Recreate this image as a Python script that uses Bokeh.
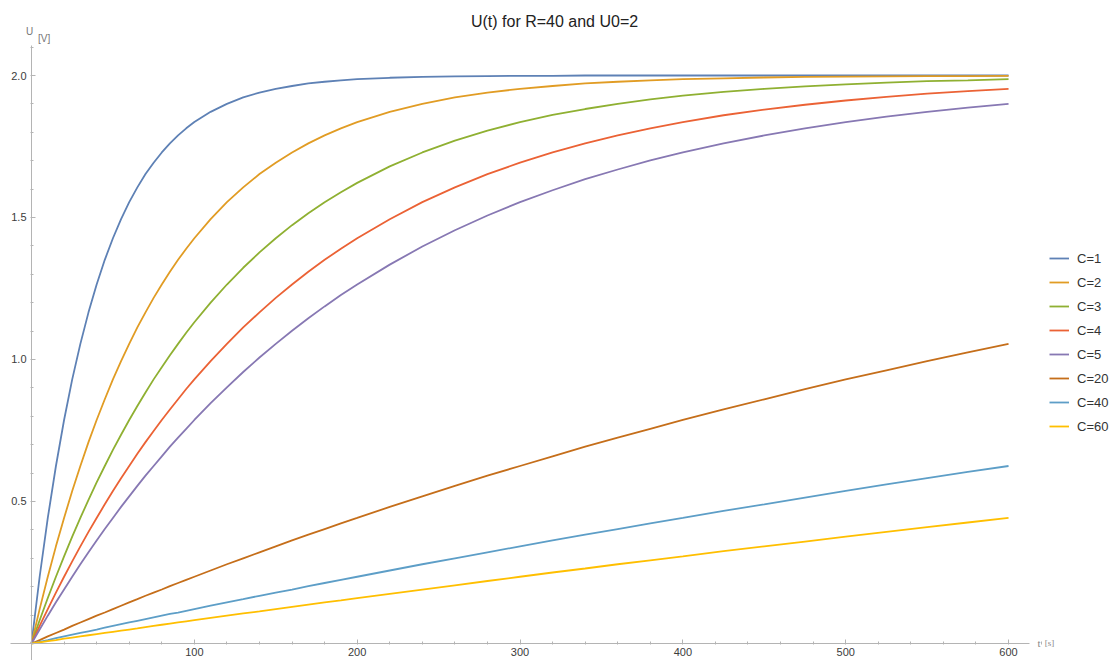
from bokeh.plotting import figure
from bokeh.models import Legend, LegendItem, Label, FixedTicker, PrintfTickFormatter, Range1d
from bokeh.embed import file_html
from bokeh.resources import INLINE

# time samples [s]
t = [0, 5, 10, 15, 20, 25, 30, 35, 40, 45, 50, 55, 60, 65, 70, 75, 80, 85, 90, 95, 100,
     110, 120, 130, 140, 150, 160, 170, 180, 190, 200,
     220, 240, 260, 280, 300, 320, 340, 360, 380, 400,
     425, 450, 475, 500, 525, 550, 575, 600]

labels = ["C=1", "C=2", "C=3", "C=4", "C=5", "C=20", "C=40", "C=60"]

U_C1 = [0, 0.235, 0.442, 0.625, 0.787, 0.930, 1.055, 1.166, 1.264, 1.351, 1.427, 1.494, 1.554, 1.606,
        1.653, 1.693, 1.729, 1.761, 1.789, 1.814, 1.836,
        1.872, 1.900, 1.923, 1.940, 1.953, 1.963, 1.972, 1.978, 1.983, 1.987,
        1.992, 1.995, 1.997, 1.998, 1.999, 1.999, 2.000, 2.000, 2.000, 2.000,
        2.000, 2.000, 2.000, 2.000, 2.000, 2.000, 2.000, 2.000]
U_C2 = [0, 0.121, 0.235, 0.342, 0.442, 0.537, 0.625, 0.709, 0.787, 0.860, 0.930, 0.994, 1.055, 1.113,
        1.166, 1.217, 1.264, 1.309, 1.351, 1.390, 1.427,
        1.494, 1.554, 1.606, 1.653, 1.693, 1.729, 1.761, 1.789, 1.814, 1.836,
        1.872, 1.900, 1.923, 1.940, 1.953, 1.963, 1.972, 1.978, 1.983, 1.987,
        1.990, 1.993, 1.995, 1.996, 1.997, 1.998, 1.998, 1.999]
U_C3 = [0, 0.082, 0.160, 0.235, 0.307, 0.376, 0.442, 0.506, 0.567, 0.625, 0.682, 0.735, 0.787, 0.836,
        0.884, 0.930, 0.973, 1.015, 1.055, 1.094, 1.131,
        1.200, 1.264, 1.323, 1.377, 1.427, 1.473, 1.515, 1.554, 1.589, 1.622,
        1.680, 1.729, 1.771, 1.806, 1.836, 1.861, 1.882, 1.900, 1.916, 1.929,
        1.942, 1.953, 1.962, 1.969, 1.975, 1.980, 1.983, 1.987]
U_C4 = [0, 0.062, 0.121, 0.179, 0.235, 0.289, 0.342, 0.393, 0.442, 0.490, 0.537, 0.582, 0.625, 0.668,
        0.709, 0.748, 0.787, 0.824, 0.860, 0.896, 0.930,
        0.994, 1.055, 1.113, 1.166, 1.217, 1.264, 1.309, 1.351, 1.390, 1.427,
        1.494, 1.554, 1.606, 1.653, 1.693, 1.729, 1.761, 1.789, 1.814, 1.836,
        1.860, 1.880, 1.897, 1.912, 1.925, 1.936, 1.945, 1.953]
U_C5 = [0, 0.049, 0.098, 0.145, 0.190, 0.235, 0.279, 0.321, 0.363, 0.403, 0.442, 0.481, 0.518, 0.555,
        0.591, 0.625, 0.659, 0.693, 0.725, 0.756, 0.787,
        0.846, 0.902, 0.956, 1.007, 1.055, 1.101, 1.145, 1.187, 1.227, 1.264,
        1.334, 1.398, 1.455, 1.507, 1.554, 1.596, 1.635, 1.669, 1.701, 1.729,
        1.761, 1.789, 1.814, 1.836, 1.855, 1.872, 1.887, 1.900]
U_C20 = [0, 0.012, 0.025, 0.037, 0.049, 0.062, 0.074, 0.086, 0.098, 0.109, 0.121, 0.133, 0.145, 0.156,
         0.168, 0.179, 0.190, 0.202, 0.213, 0.224, 0.235,
         0.257, 0.279, 0.300, 0.321, 0.342, 0.363, 0.383, 0.403, 0.423, 0.442,
         0.481, 0.518, 0.555, 0.591, 0.625, 0.659, 0.693, 0.725, 0.756, 0.787,
         0.824, 0.860, 0.896, 0.930, 0.962, 0.994, 1.025, 1.055]
U_C40 = [0, 0.006, 0.012, 0.019, 0.025, 0.031, 0.037, 0.043, 0.049, 0.056, 0.062, 0.068, 0.074, 0.080,
         0.086, 0.092, 0.098, 0.104, 0.109, 0.115, 0.121,
         0.133, 0.145, 0.156, 0.168, 0.179, 0.190, 0.202, 0.213, 0.224, 0.235,
         0.257, 0.279, 0.300, 0.321, 0.342, 0.363, 0.383, 0.403, 0.423, 0.442,
         0.467, 0.490, 0.514, 0.537, 0.560, 0.582, 0.604, 0.625]
U_C60 = [0, 0.004, 0.008, 0.012, 0.017, 0.021, 0.025, 0.029, 0.033, 0.037, 0.041, 0.045, 0.049, 0.053,
         0.058, 0.062, 0.066, 0.070, 0.074, 0.078, 0.082,
         0.090, 0.098, 0.106, 0.113, 0.121, 0.129, 0.137, 0.145, 0.152, 0.160,
         0.175, 0.190, 0.205, 0.220, 0.235, 0.250, 0.264, 0.279, 0.293, 0.307,
         0.325, 0.342, 0.359, 0.376, 0.393, 0.410, 0.426, 0.442]

series = [U_C1, U_C2, U_C3, U_C4, U_C5, U_C20, U_C40, U_C60]
colors = ["#5E81B5", "#E19C24", "#8FB032", "#EB6235", "#8778B3", "#C56E1A", "#5D9EC7", "#FFBF00"]

x_major = [100, 200, 300, 400, 500, 600]
x_minor = list(range(-20, 621, 20))
y_major = [0.5, 1.0, 1.5, 2.0]
y_minor = [i / 10 for i in range(-1, 22)]

p = figure(width=1109, height=660, output_backend="svg", toolbar_location=None,
           x_range=Range1d(-19.04, 662.0), y_range=Range1d(-0.0599, 2.2641),
           min_border_left=0, min_border_top=0, min_border_bottom=0, min_border_right=0)
p.grid.visible = False
p.outline_line_color = None
p.background_fill_color = "white"

p.xaxis.fixed_location = 0
p.yaxis.fixed_location = 0
p.xaxis.bounds = (-12.9, 612.9)
p.yaxis.bounds = (-0.0599, 2.106)
p.xaxis.ticker = FixedTicker(ticks=x_major, minor_ticks=x_minor)
p.yaxis.ticker = FixedTicker(ticks=y_major, minor_ticks=y_minor)
p.yaxis.formatter = PrintfTickFormatter(format="%.1f")
p.xaxis.formatter = PrintfTickFormatter(format="%d")
for ax in (p.xaxis, p.yaxis):
    ax.axis_line_color = "#b4b4b4"
    ax.major_tick_line_color = "#b4b4b4"
    ax.minor_tick_line_color = "#b4b4b4"
    ax.major_tick_in = 4
    ax.major_tick_out = 0
    ax.minor_tick_in = 2
    ax.minor_tick_out = 1
    ax.major_label_text_font = "Liberation Sans"
    ax.major_label_text_font_size = "11px"
    ax.major_label_text_color = "#3c3c3c"
    ax.major_label_standoff = 4

items = []
for lab, ys, col in zip(labels, series, colors):
    r = p.line(t, ys, line_color=col, line_width=1.8)
    items.append(LegendItem(label=lab, renderers=[r]))

legend = Legend(items=items, location=(1049, 224), margin=0, padding=0,
                glyph_width=20, glyph_height=20, spacing=4, label_standoff=8,
                label_text_font="Liberation Sans", label_text_font_size="13px",
                label_text_color="#333333", border_line_color=None,
                background_fill_alpha=0)
p.add_layout(legend)

p.add_layout(Label(x=321.2, y=2.19, text="U(t) for R=40 and U0=2", text_align="center",
                   text_baseline="middle", text_font="Liberation Sans", text_font_size="16px",
                   text_color="#222222"))
p.add_layout(Label(x=-1.2, y=2.155, text="U", text_align="center", text_baseline="middle",
                   text_font="Liberation Sans", text_font_size="10px", text_color="#777777"))
p.add_layout(Label(x=7.7, y=2.13, text="[V]", text_align="center", text_baseline="middle",
                   text_font="Liberation Sans", text_font_size="10px", text_color="#777777"))
p.add_layout(Label(x=617.8, y=0.0, text="t", text_align="left", text_baseline="middle",
                   text_font="Liberation Serif", text_font_size="11px", text_color="#888888"))
p.add_layout(Label(x=622.3, y=0.0, text="[s]", text_align="left", text_baseline="middle",
                   text_font="Liberation Serif", text_font_size="9px", text_color="#888888"))

open("out.html", "w").write(file_html(p, INLINE))
